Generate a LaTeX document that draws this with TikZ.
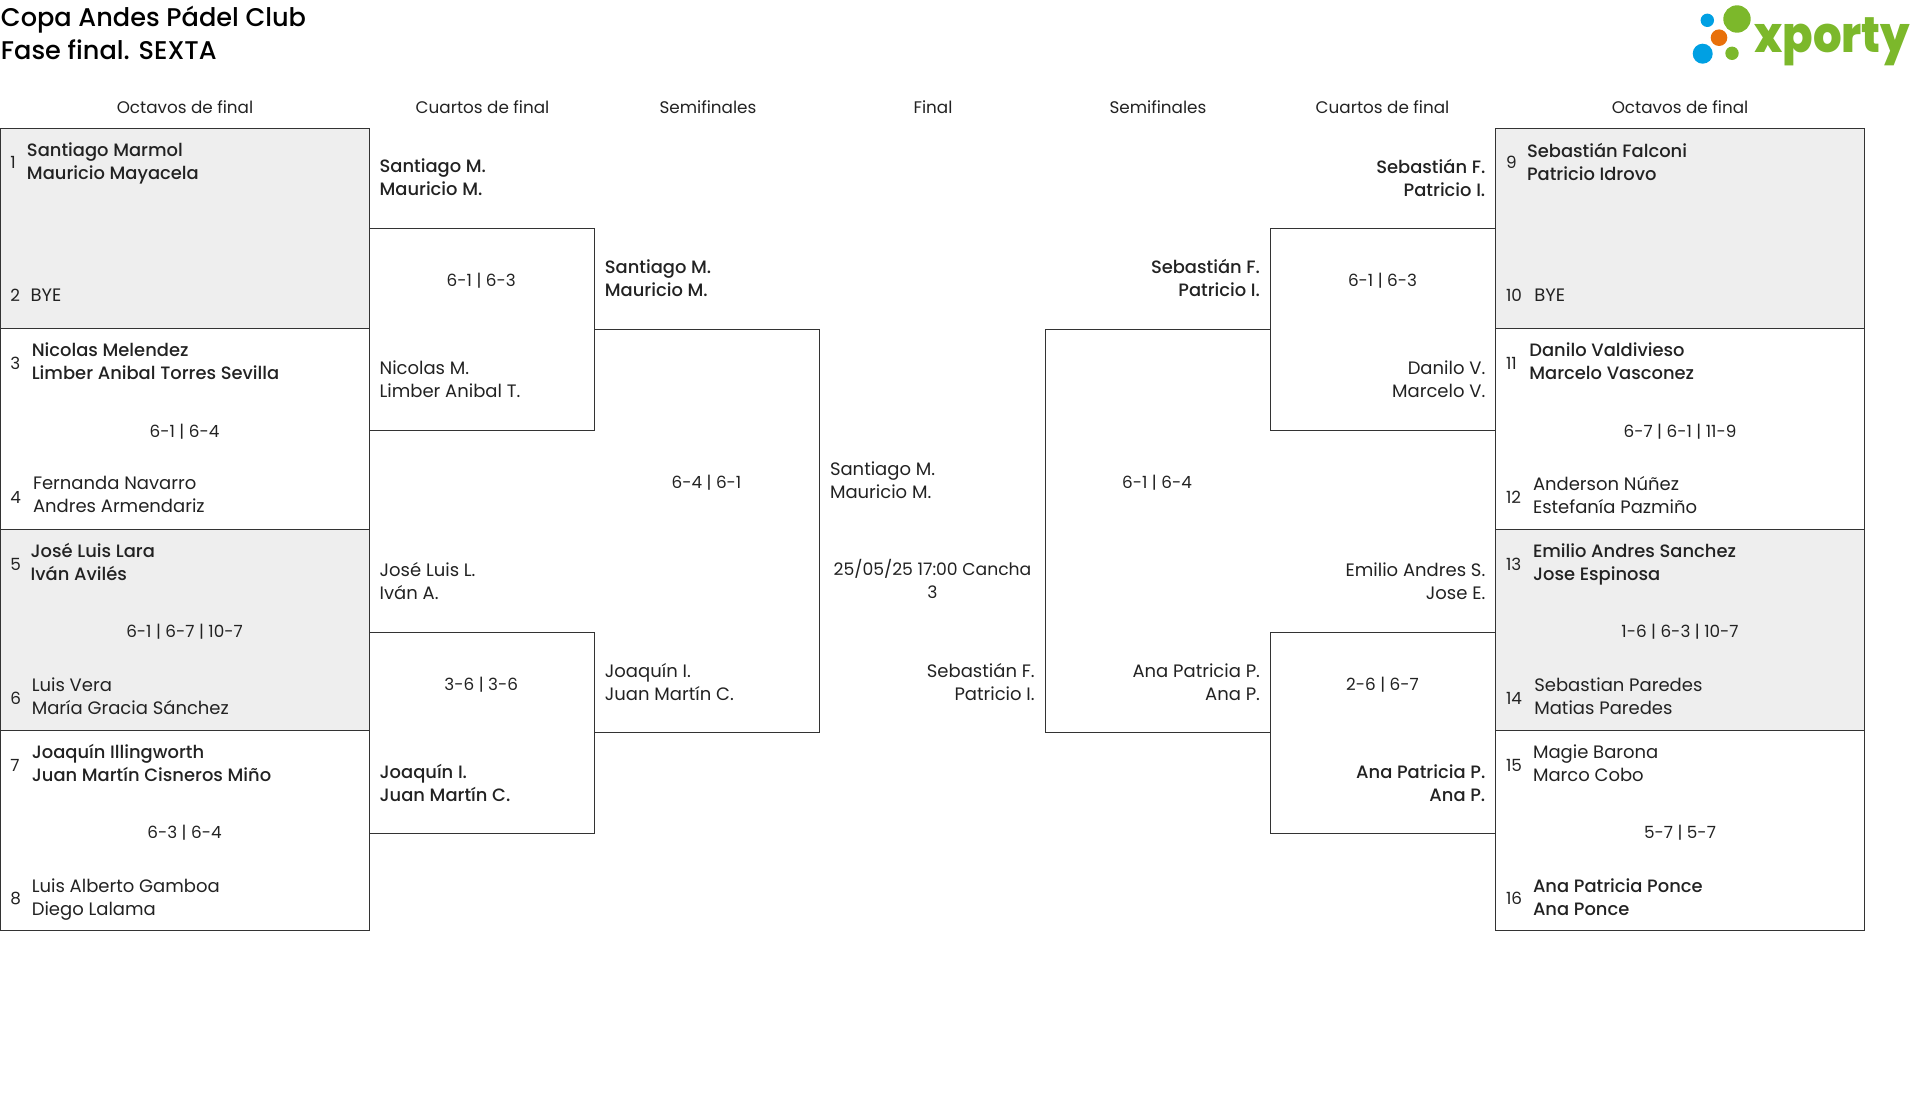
\documentclass[tikz,border=0pt]{standalone}
\usepackage{fontspec}
\usepackage{graphicx}
\setmainfont{Poppins}
\newfontfamily\medf{Poppins Medium}
\newfontfamily\logof{Poppins ExtraBold}
\definecolor{ink}{HTML}{222222}
\definecolor{linec}{HTML}{333333}
\definecolor{boxgrey}{HTML}{EEEEEE}
\definecolor{xgreen}{HTML}{7CB82B}
\definecolor{xblue}{HTML}{00A0E3}
\definecolor{xorange}{HTML}{E8700A}
\newcommand{\reg}{\fontsize{18}{23}\selectfont}
\newcommand{\win}{\medf\fontsize{17.9}{23}\selectfont}
\newcommand{\minor}{\fontsize{16.8}{23}\selectfont}
\newcommand{\fixstrut}{\rule[-5pt]{0pt}{24.4pt}}
\tikzset{
  x=1pt,y=-1pt,
  txt/.style={inner sep=0pt,outer sep=0pt,text=ink,font=\reg,
    execute at begin node=\fixstrut, execute at end node=\fixstrut},
  lft/.style={txt,anchor=west,align=left,yshift=-1.8pt},
  rgt/.style={txt,anchor=east,align=right,yshift=-1.8pt},
  ctr/.style={txt,anchor=center,align=center,font=\minor},
  num/.style={txt,anchor=west,font=\minor},
  wn/.style={font=\win},
  frame/.style={draw=linec,line width=1pt},
  title/.style={inner sep=0pt,outer sep=0pt,anchor=base west,font=\medf\fontsize{25.6}{33}\selectfont,text=black},
}
\begin{document}
\begin{tikzpicture}
\useasboundingbox (0,0) rectangle (1920,1100);
% shaded boxes and frames
\fill[boxgrey] (0,128.3) rectangle (369.3,328.5);
\fill[boxgrey] (0,529.5) rectangle (369.3,730);
\fill[boxgrey] (1495,128.3) rectangle (1864.5,328.5);
\fill[boxgrey] (1495,529.5) rectangle (1864.5,730);
\foreach \yy/\zz in {128.3/328.5,328.5/529.5,529.5/730,730/930.5}{
  \draw[frame] (0.5,\yy) rectangle (369.3,\zz);
  \draw[frame] (1495,\yy) rectangle (1864.5,\zz);
}
\draw[frame] (369.3,228.3) -- (594.5,228.3) -- (594.5,430) -- (369.3,430);
\draw[frame] (369.3,632) -- (594.5,632) -- (594.5,833.5) -- (369.3,833.5);
\draw[frame] (594.5,329) -- (819.5,329) -- (819.5,732.7) -- (594.5,732.7);
\draw[frame] (1495,228.3) -- (1270,228.3) -- (1270,430) -- (1495,430);
\draw[frame] (1495,632) -- (1270,632) -- (1270,833.5) -- (1495,833.5);
\draw[frame] (1270,329) -- (1045,329) -- (1045,732.7) -- (1270,732.7);
% titles
\node[title] (t1) at (1,26.7) {Copa Andes Pádel Club};
\node[title] (t2) at (1,59.3) {Fase final. SEXTA};
% headers
\node[ctr] (h1) at (185,106.5) {Octavos de final};
\node[ctr] (h2) at (482.5,106.5) {Cuartos de final};
\node[ctr] (h3) at (708,106.5) {Semifinales};
\node[ctr] (h4) at (933,106.5) {Final};
\node[ctr] (h5) at (1158,106.5) {Semifinales};
\node[ctr] (h6) at (1382.5,106.5) {Cuartos de final};
\node[ctr] (h7) at (1680,106.5) {Octavos de final};
% left octavos
\node[num] (n1) at (10.4,161.6) {1};
\node[lft,wn] (p1) at (27,162.2) {Santiago Marmol\\Mauricio Mayacela};
\node[num] (n2) at (10.4,294.5) {2};
\node[lft] (p2) at (30.6,292.7) {BYE};
\node[num] (n3) at (10.4,362) {3};
\node[lft,wn] (p3) at (31.8,361.8) {Nicolas Melendez\\Limber Anibal Torres Sevilla};
\node[ctr] (s3) at (184.5,430) {6-1 | 6-4};
\node[num] (n4) at (10.4,496) {4};
\node[lft] (p4) at (33,495.3) {Fernanda Navarro\\Andres Armendariz};
\node[num] (n5) at (10.4,563) {5};
\node[lft,wn] (p5) at (30.6,562.7) {José Luis Lara\\Iván Avilés};
\node[ctr] (s5) at (184.5,630.6) {6-1 | 6-7 | 10-7};
\node[num] (n6) at (10.4,697) {6};
\node[lft] (p6) at (31.8,696.7) {Luis Vera\\María Gracia Sánchez};
\node[num] (n7) at (10.4,764) {7};
\node[lft,wn] (p7) at (31.8,763.5) {Joaquín Illingworth\\Juan Martín Cisneros Miño};
\node[ctr] (s7) at (184.5,831.5) {6-3 | 6-4};
\node[num] (n8) at (10.4,897.6) {8};
\node[lft] (p8) at (31.8,897.6) {Luis Alberto Gamboa\\Diego Lalama};
% right octavos
\node[num] (n9) at (1506,161.6) {9};
\node[lft,wn] (p9) at (1527,162.2) {Sebastián Falconi\\Patricio Idrovo};
\node[num] (n10) at (1506,294.5) {10};
\node[lft] (p10) at (1534.3,292.7) {BYE};
\node[num] (n11) at (1506,362) {11};
\node[lft,wn] (p11) at (1529.4,361.8) {Danilo Valdivieso\\Marcelo Vasconez};
\node[ctr] (s11) at (1680,430) {6-7 | 6-1 | 11-9};
\node[num] (n12) at (1506,496) {12};
\node[lft] (p12) at (1533,495.3) {Anderson Núñez\\Estefanía Pazmiño};
\node[num] (n13) at (1506,563) {13};
\node[lft,wn] (p13) at (1533,562.7) {Emilio Andres Sanchez\\Jose Espinosa};
\node[ctr] (s13) at (1680,630.6) {1-6 | 6-3 | 10-7};
\node[num] (n14) at (1506,697) {14};
\node[lft] (p14) at (1534.3,696.7) {Sebastian Paredes\\Matias Paredes};
\node[num] (n15) at (1506,764) {15};
\node[lft] (p15) at (1533,763.5) {Magie Barona\\Marco Cobo};
\node[ctr] (s15) at (1680,831.5) {5-7 | 5-7};
\node[num] (n16) at (1506,897.6) {16};
\node[lft,wn] (p16) at (1533,897.6) {Ana Patricia Ponce\\Ana Ponce};
% left cuartos
\node[lft,wn] (q1) at (379.6,178.2) {Santiago M.\\Mauricio M.};
\node[ctr] (qs1) at (481.2,279) {6-1 | 6-3};
\node[lft] (q2) at (379.6,379.6) {Nicolas M.\\Limber Anibal T.};
\node[lft] (q3) at (379.6,581.6) {José Luis L.\\Iván A.};
\node[ctr] (qs2) at (481.2,683.3) {3-6 | 3-6};
\node[lft,wn] (q4) at (379.6,783.7) {Joaquín I.\\Juan Martín C.};
% left semis
\node[lft,wn] (sf1) at (604.9,279) {Santiago M.\\Mauricio M.};
\node[ctr] (ss1) at (706.5,481.2) {6-4 | 6-1};
\node[lft] (sf2) at (604.9,682.7) {Joaquín I.\\Juan Martín C.};
% final
\node[lft] (f1) at (830,481.2) {Santiago M.\\Mauricio M.};
\node[ctr,font=\fontsize{17.2}{23}\selectfont] (f2) at (932.5,581) {25/05/25 17:00 Cancha\\3};
\node[rgt] (f3) at (1034.7,682.7) {Sebastián F.\\Patricio I.};
% right semis
\node[rgt,wn] (sf3) at (1260,279) {Sebastián F.\\Patricio I.};
\node[ctr] (ss2) at (1157,481.2) {6-1 | 6-4};
\node[rgt] (sf4) at (1260,682.7) {Ana Patricia P.\\Ana P.};
% right cuartos
\node[rgt,wn] (q5) at (1485.3,178.2) {Sebastián F.\\Patricio I.};
\node[ctr] (qs3) at (1382.5,279) {6-1 | 6-3};
\node[rgt] (q6) at (1485.3,379.6) {Danilo V.\\Marcelo V.};
\node[rgt] (q7) at (1485.3,581.6) {Emilio Andres S.\\Jose E.};
\node[ctr] (qs4) at (1382.5,683.3) {2-6 | 6-7};
\node[rgt,wn] (q8) at (1485.3,783.7) {Ana Patricia P.\\Ana P.};
% logo
\fill[xgreen] (1737,19) circle (13.7);
\fill[xblue] (1707.3,20.3) circle (6.7);
\fill[xorange] (1719,37.7) circle (8.3);
\fill[xblue] (1702.7,53.7) circle (10);
\fill[xgreen] (1732,53.3) circle (6.7);
\node[inner sep=0pt,anchor=base west,text=xgreen,font=\logof\fontsize{50}{50}\selectfont] (logo) at (1754,52) {\scalebox{.9}[1]{xporty}};
\end{tikzpicture}
\end{document}
